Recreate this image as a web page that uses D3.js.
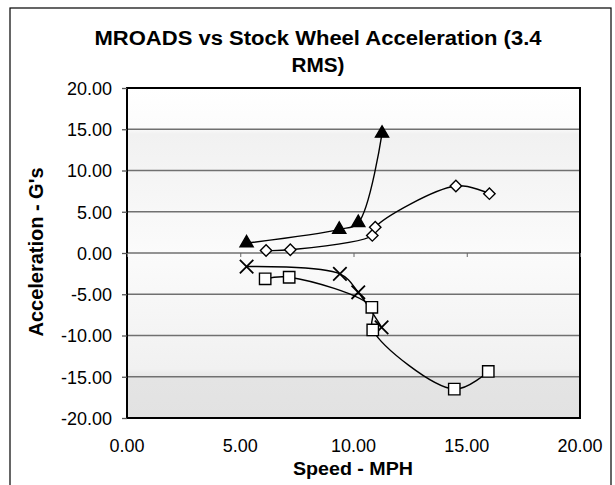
<!DOCTYPE html>
<html>
<head>
<meta charset="utf-8">
<script src="https://cdn.jsdelivr.net/npm/d3@7"></script>
<style>
  body { margin: 0; background: #fff; }
  text { font-family: "Liberation Sans", Arial, sans-serif; fill: #000; }
</style>
</head>
<body>
<svg id="chart" width="615" height="485"></svg>
<script>
// values
const xTicks = [0, 5, 10, 15, 20];
const yTicks = [-20, -15, -10, -5, 0, 5, 10, 15, 20];

const triSpeed = [5.28, 9.37, 10.21, 11.26];
const triAccel = [1.2, 2.86, 3.67, 14.5];

const diaSpeed = [6.14, 7.21, 10.83, 10.96, 14.52, 16.0];
const diaAccel = [0.3, 0.39, 2.13, 3.13, 8.12, 7.19];

const crossSpeed = [5.28, 9.4, 10.21, 11.24];
const crossAccel = [-1.64, -2.53, -4.76, -9.01];

const sqSpeed = [6.1, 7.16, 10.81, 10.85, 14.45, 15.95];
const sqAccel = [-3.13, -2.94, -6.59, -9.33, -16.5, -14.36];

const series = [
  { marker: "triangle", x: triSpeed, y: triAccel },
  { marker: "diamond", x: diaSpeed, y: diaAccel },
  { marker: "cross", x: crossSpeed, y: crossAccel },
  { marker: "square", x: sqSpeed, y: sqAccel }
];

const margin = { left: 127, right: 35, top: 88, bottom: 67 };
const W = 615, H = 485;
const width = W - margin.left - margin.right;
const height = H - margin.top - margin.bottom;

// plain hyphen minus, like the original
const fmt = d3.formatLocale({ decimal: ".", thousands: ",", grouping: [3], currency: ["", ""], minus: "-" }).format(".2f");

const svg = d3.select("#chart");

// outer frame of the chart
svg.append("rect")
  .attr("x", 10).attr("y", 8)
  .attr("width", 601).attr("height", 490)
  .attr("fill", "none").attr("stroke", "#000").attr("stroke-width", 1.2);

const x = d3.scaleLinear().domain([0, 20]).range([0, width]);
const y = d3.scaleLinear().domain([-20, 20]).range([height, 0]);

const defs = svg.append("defs");
const grad = defs.append("linearGradient").attr("id", "bg")
  .attr("x1", 0).attr("y1", 0).attr("x2", 0).attr("y2", 1);
[[0, "#ffffff"], [0.12, "#fcfcfc"], [0.14, "#f1f1f1"], [0.5, "#fbfbfb"], [0.85, "#f1f1f1"], [0.88, "#e4e4e4"], [1, "#e2e2e2"]]
  .forEach(([o, c]) => grad.append("stop").attr("offset", o).attr("stop-color", c));

const g = svg.append("g").attr("transform", `translate(${margin.left},${margin.top})`);

g.append("rect")
  .attr("width", width).attr("height", height)
  .attr("fill", "url(#bg)");

// horizontal gridlines
g.selectAll(".grid").data(yTicks.slice(1, -1)).join("line")
  .attr("class", "grid")
  .attr("x1", 0).attr("x2", width)
  .attr("y1", d => y(d)).attr("y2", d => y(d))
  .attr("stroke", "#707070").attr("stroke-width", 1.3);

// plot border
g.append("rect")
  .attr("width", width).attr("height", height)
  .attr("fill", "none").attr("stroke", "#000").attr("stroke-width", 2);

// y axis
const yAxis = g.append("g")
  .call(d3.axisLeft(y).tickValues(yTicks).tickFormat(fmt).tickSize(5).tickPadding(10));
yAxis.select(".domain").remove();
yAxis.selectAll("line").attr("stroke", "#555").attr("stroke-width", 1.3);
yAxis.selectAll("text").style("font-size", "18px").attr("dy", "0.36em");

// x axis crossing at zero: small ticks, labels below the plot
const xAxis = g.append("g")
  .attr("transform", `translate(0,${y(0)})`)
  .call(d3.axisBottom(x).tickValues(xTicks).tickSize(4).tickFormat(""));
xAxis.select(".domain").remove();
xAxis.selectAll("line").attr("stroke", "#666").attr("stroke-width", 1);

g.selectAll(".xlab").data(xTicks).join("text")
  .attr("class", "xlab")
  .attr("x", d => x(d)).attr("y", height + 34)
  .attr("text-anchor", "middle")
  .style("font-size", "18px")
  .text(d => fmt(d));

// series lines
const line = d3.line()
  .x(d => x(d[0])).y(d => y(d[1]))
  .curve(d3.curveCatmullRom.alpha(0.5));

series.forEach(s => {
  const pts = s.x.map((v, i) => [v, s.y[i]]);
  g.append("path")
    .datum(pts)
    .attr("d", line)
    .attr("fill", "none").attr("stroke", "#000").attr("stroke-width", 1.4);
});

// markers
const sym = {
  triangle: d3.symbol().type(d3.symbolTriangle).size(75),
  diamond: d3.symbol().type(d3.symbolSquare).size(65),
  cross: d3.symbol().type(d3.symbolTimes).size(120),
  square: d3.symbol().type(d3.symbolSquare).size(130)
};

series.forEach(s => {
  const pts = s.x.map((v, i) => [v, s.y[i]]);
  g.selectAll(null).data(pts).join("path")
    .attr("d", sym[s.marker]())
    .attr("transform", d => `translate(${x(d[0])},${y(d[1])})` + (s.marker === "diamond" ? " rotate(45)" : ""))
    .attr("fill", s.marker === "triangle" ? "#000" : (s.marker === "cross" ? "none" : "#fff"))
    .attr("stroke", "#000")
    .attr("stroke-width", s.marker === "cross" ? 1.8 : 1.4);
});

// titles
svg.append("text")
  .attr("x", 318).attr("y", 45)
  .attr("text-anchor", "middle")
  .attr("textLength", 447).attr("lengthAdjust", "spacingAndGlyphs")
  .style("font-size", "20px").style("font-weight", "bold")
  .text("MROADS vs Stock Wheel Acceleration (3.4");
svg.append("text")
  .attr("x", 318).attr("y", 72)
  .attr("text-anchor", "middle")
  .attr("textLength", 53).attr("lengthAdjust", "spacingAndGlyphs")
  .style("font-size", "20px").style("font-weight", "bold")
  .text("RMS)");

svg.append("text")
  .attr("x", 353).attr("y", 475)
  .attr("text-anchor", "middle")
  .attr("textLength", 120).attr("lengthAdjust", "spacingAndGlyphs")
  .style("font-size", "18px").style("font-weight", "bold")
  .text("Speed - MPH");

svg.append("text")
  .attr("transform", `translate(43,252) rotate(-90)`)
  .attr("text-anchor", "middle")
  .attr("textLength", 169).attr("lengthAdjust", "spacingAndGlyphs")
  .style("font-size", "20px").style("font-weight", "bold")
  .text("Acceleration - G's");
</script>
</body>
</html>
